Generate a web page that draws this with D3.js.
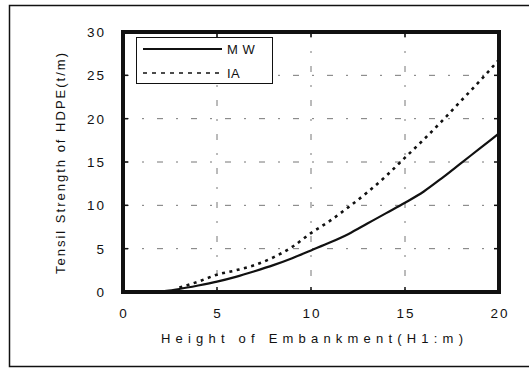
<!DOCTYPE html>
<html>
<head>
<meta charset="utf-8">
<script src="https://cdn.jsdelivr.net/npm/d3@7"></script>
<style>
  body { margin: 0; background: #fff; }
  text { font-family: "Liberation Sans", Arial, sans-serif; fill: #111; }
</style>
</head>
<body>
<svg id="chart" width="529" height="368"></svg>
<script>
// values
const heights = [2, 3, 4, 5, 6, 7, 8, 9, 10, 11, 12, 13, 14, 15, 16, 17, 18, 19, 20];
const mwValues = [0.05, 0.35, 0.75, 1.2, 1.75, 2.4, 3.1, 3.9, 4.8, 5.7, 6.7, 7.9, 9.1, 10.3, 11.6, 13.2, 14.9, 16.6, 18.3];
const iaHeights = [3, 4, 5, 6, 7, 8, 9, 10, 11, 12, 13, 14, 15, 16, 17, 18, 19, 20];
const iaValues = [0.5, 1.2, 2.0, 2.5, 3.1, 4.0, 5.2, 6.8, 8.2, 9.8, 11.5, 13.4, 15.5, 17.6, 19.8, 22.1, 24.4, 26.8];
const xTicks = [0, 5, 10, 15, 20];
const yTicks = [0, 5, 10, 15, 20, 25, 30];
const seriesNames = ["M W", "IA"];

const svg = d3.select("#chart");
const pLeft = 123, pRight = 499, pTop = 32, pBottom = 292;

// outer frame
svg.append("rect")
  .attr("x", 9.5).attr("y", 5.5)
  .attr("width", 540).attr("height", 361)
  .attr("fill", "none").attr("stroke", "#111").attr("stroke-width", 1.5);

const x = d3.scaleLinear().domain([0, 20]).range([pLeft, pRight]);
const y = d3.scaleLinear().domain([0, 30]).range([pBottom, pTop]);

// grid
const grid = svg.append("g")
  .attr("stroke", "#777").attr("stroke-width", 1)
  .attr("stroke-dasharray", "6,13,2,13");
grid.selectAll("line.v").data(xTicks.slice(1, -1)).enter().append("line")
  .attr("x1", d => x(d)).attr("x2", d => x(d))
  .attr("y1", pTop).attr("y2", pBottom);
grid.selectAll("line.h").data(yTicks.slice(1, -1)).enter().append("line")
  .attr("x1", pLeft).attr("x2", pRight)
  .attr("y1", d => y(d)).attr("y2", d => y(d));

// inner ticks on all sides
const tk = svg.append("g").attr("stroke", "#111").attr("stroke-width", 1.5);
tk.selectAll("line.b").data(xTicks).enter().append("line")
  .attr("x1", d => x(d)).attr("x2", d => x(d)).attr("y1", pBottom).attr("y2", pBottom - 5);
tk.selectAll("line.t").data(xTicks).enter().append("line")
  .attr("x1", d => x(d)).attr("x2", d => x(d)).attr("y1", pTop).attr("y2", pTop + 5);
tk.selectAll("line.l").data(yTicks).enter().append("line")
  .attr("x1", pLeft).attr("x2", pLeft + 5).attr("y1", d => y(d)).attr("y2", d => y(d));
tk.selectAll("line.r").data(yTicks).enter().append("line")
  .attr("x1", pRight).attr("x2", pRight - 5).attr("y1", d => y(d)).attr("y2", d => y(d));

// tick labels
svg.selectAll("text.xt").data(xTicks).enter().append("text")
  .attr("x", d => x(d) + 1).attr("y", 318)
  .attr("text-anchor", "middle").attr("font-size", 13.5).attr("letter-spacing", 2)
  .text(d => d);
svg.selectAll("text.yt").data(yTicks).enter().append("text")
  .attr("x", 106).attr("y", d => y(d) + 5)
  .attr("text-anchor", "end").attr("font-size", 13.5).attr("letter-spacing", 2)
  .text(d => d);

// axis titles
svg.append("text")
  .attr("x", 161).attr("y", 343)
  .attr("font-size", 13)
  .attr("textLength", 302).attr("lengthAdjust", "spacing")
  .text("Height of Embankment(H1:m)");
svg.append("text")
  .attr("transform", "translate(65,274) rotate(-90)")
  .attr("font-size", 13)
  .attr("textLength", 221).attr("lengthAdjust", "spacing")
  .text("Tensil Strength of HDPE(t/m)");

// series
const line = d3.line().x(d => x(d[0])).y(d => y(d[1])).curve(d3.curveMonotoneX);
svg.append("path")
  .datum(heights.map((h, i) => [h, mwValues[i]]))
  .attr("d", line)
  .attr("fill", "none").attr("stroke", "#111").attr("stroke-width", 2.2);
svg.append("path")
  .datum(iaHeights.map((h, i) => [h, iaValues[i]]))
  .attr("d", line)
  .attr("fill", "none").attr("stroke", "#111").attr("stroke-width", 2.6)
  .attr("stroke-dasharray", "3,4.5");

// plot border
svg.append("rect")
  .attr("x", pLeft).attr("y", pTop)
  .attr("width", pRight - pLeft).attr("height", pBottom - pTop)
  .attr("fill", "none").attr("stroke", "#111").attr("stroke-width", 4);

// legend
const lg = svg.append("g");
lg.append("rect")
  .attr("x", 136.5).attr("y", 37.5).attr("width", 136).attr("height", 46)
  .attr("fill", "#fff").attr("stroke", "#111").attr("stroke-width", 1);
const legendRows = [
  { name: seriesNames[0], y: 49, dash: null, w: 2.2 },
  { name: seriesNames[1], y: 73, dash: "4,5", w: 1.5 }
];
legendRows.forEach(r => {
  lg.append("line")
    .attr("x1", 143).attr("x2", 222).attr("y1", r.y).attr("y2", r.y)
    .attr("stroke", "#111").attr("stroke-width", r.w)
    .attr("stroke-dasharray", r.dash);
  lg.append("text")
    .attr("x", 227).attr("y", r.y + 5)
    .attr("font-size", 13).attr("letter-spacing", 0.5)
    .text(r.name);
});
</script>
</body>
</html>
